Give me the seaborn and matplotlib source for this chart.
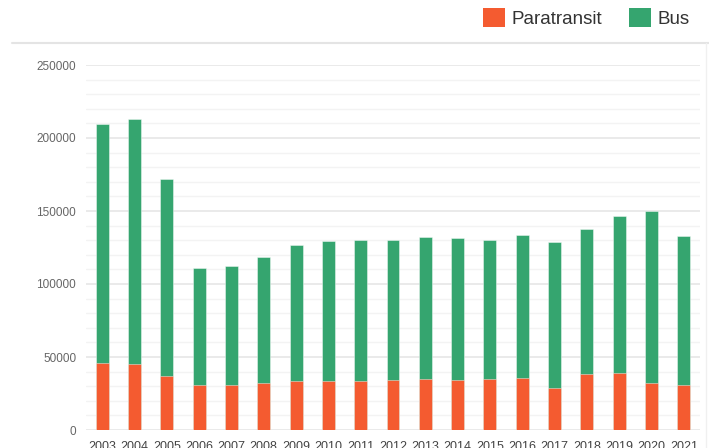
import numpy as np
import pandas as pd
import matplotlib
matplotlib.use('Agg')
import matplotlib.pyplot as plt
import seaborn as sns
from matplotlib.patches import Patch
from matplotlib.lines import Line2D
from matplotlib.ticker import MultipleLocator

# ── Данные ────────────────────────────────────────────────────────────────────
YEARS = [str(y) for y in range(2003, 2022)]
PARATRANSIT = [46100, 45000, 37200, 31000, 31000, 32400, 33600, 33600, 33600, 34250,
               34700, 34250, 34900, 35400, 28550, 38600, 39000, 32200, 31000]
BUS = [163200, 167700, 134900, 80100, 81650, 86000, 93350, 95850, 96350, 96150,
       97800, 97550, 95500, 98400, 99950, 99200, 107800, 118000, 102200]

SERIES_NAMES = ['Paratransit', 'Bus']
COLORS = {'Paratransit': '#f45b30', 'Bus': '#35a56f'}

df = pd.DataFrame({'year': YEARS, 'Paratransit': PARATRANSIT, 'Bus': BUS})
df['total'] = df['Paratransit'] + df['Bus']  # верх стопки

sns.set_style('white')
plt.rcParams['font.family'] = ['Liberation Sans', 'DejaVu Sans']

fig = plt.figure(figsize=(7.09, 4.48), dpi=100)
ax = fig.add_axes([86 / 709, 18 / 448, 614 / 709, 365 / 448])

# стопка: сначала полная высота (Bus), потом поверх Paratransit
sns.barplot(data=df, x='year', y='total', color=COLORS['Bus'], width=0.4,
            saturation=1, edgecolor='#ffffff80', linewidth=0.6, ax=ax, zorder=3)
sns.barplot(data=df, x='year', y='Paratransit', color=COLORS['Paratransit'], width=0.4,
            saturation=1, edgecolor='#ffffff80', linewidth=0.6, ax=ax, zorder=3)

ax.set_ylim(0, 250000)
ax.set_xlim(-0.5, len(YEARS) - 0.5)
ax.yaxis.set_major_locator(MultipleLocator(50000))
ax.yaxis.set_minor_locator(MultipleLocator(10000))
ax.grid(axis='y', which='major', color='#e6e6e6', lw=1.2, zorder=0)
ax.grid(axis='y', which='minor', color='#f3f3f3', lw=1.0, zorder=0)
ax.set_axisbelow(True)
for s in ax.spines.values():
    s.set_visible(False)

ax.set_xlabel('')
ax.set_ylabel('')
ax.tick_params(axis='y', which='both', length=0, pad=7, labelsize=8.5, labelcolor='#666666')
ax.tick_params(axis='x', length=0, pad=8, labelsize=9, labelcolor='#444444')
ax.set_yticks(range(0, 250001, 50000))
ax.set_yticklabels([str(v) for v in range(0, 250001, 50000)])

# рамка панели сверху и справа
fig.add_artist(Line2D([12 / 709, 1], [1 - 43 / 448] * 2, color='#e4e4e4', lw=1.5))
fig.add_artist(Line2D([706 / 709] * 2, [0, 1 - 43 / 448], color='#f0f0f0', lw=1.0))

handles = [Patch(facecolor=COLORS[n], edgecolor='none', label=n) for n in SERIES_NAMES]
fig.legend(handles=handles, loc='upper right', bbox_to_anchor=(690 / 709, 1 - 8 / 448),
           ncol=2, frameon=False, fontsize=13.5, handlelength=1.2, handleheight=1.2,
           handletextpad=0.35, columnspacing=1.4, borderpad=0, borderaxespad=0,
           labelcolor='#333333')

plt.savefig('out.png', dpi=100)
